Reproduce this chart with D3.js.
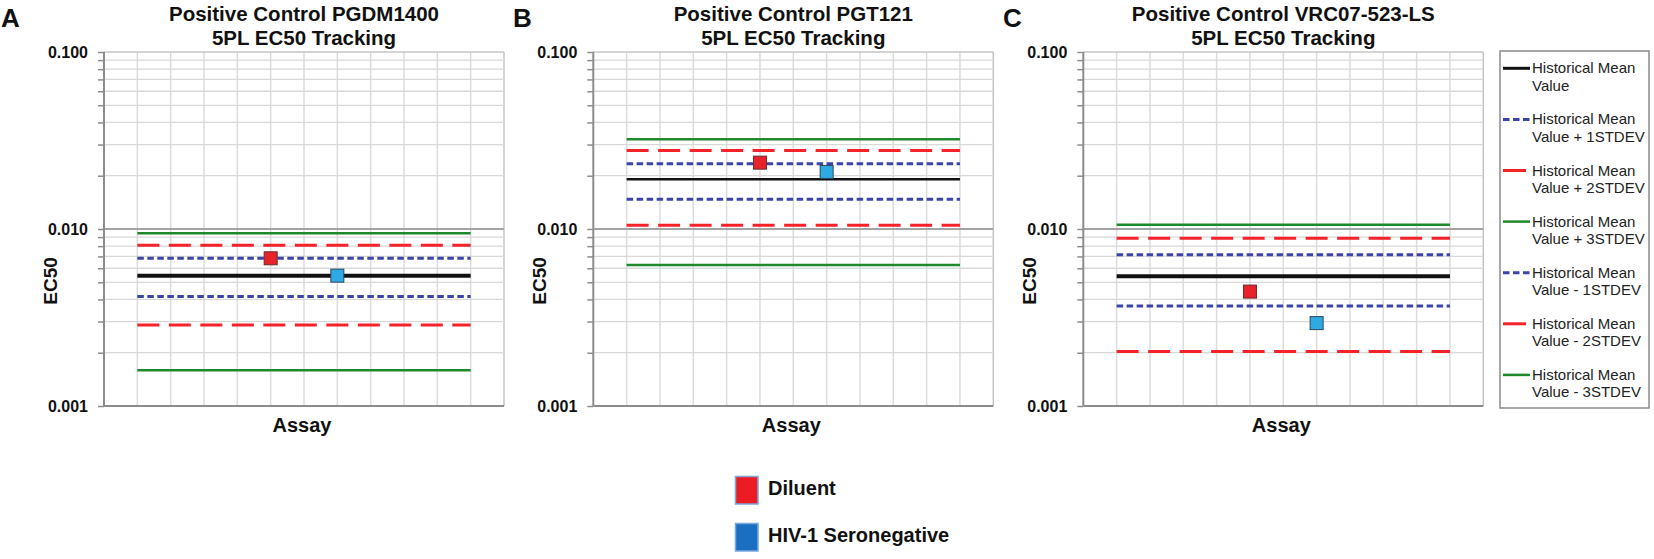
<!DOCTYPE html>
<html><head><meta charset="utf-8">
<script src="https://cdn.jsdelivr.net/npm/d3@7"></script>
<style>body{margin:0;background:#fff} svg{display:block;font-family:"Liberation Sans",Arial,sans-serif}</style>
</head><body><svg id="c" width="1654" height="559"></svg>
<script>
// ---------- data ----------
const panelLetters = ["A", "B", "C"];
const titleLine1 = ["Positive Control PGDM1400", "Positive Control PGT121", "Positive Control VRC07-523-LS"];
const titleLine2 = "5PL EC50 Tracking";
const yMajorTicks = [0.001, 0.01, 0.1];
const assayStart = 1, assayEnd = 11, assayMax = 12;
const assayGrid = [1, 2, 3, 4, 5, 6, 7, 8, 9, 10, 11, 12];

const histMean   = [0.00545, 0.0191, 0.00541];
const histPlus1  = [0.00683, 0.0234, 0.00716];
const histPlus2  = [0.00809, 0.0278, 0.00886];
const histPlus3  = [0.00946, 0.0321, 0.01057];
const histMinus1 = [0.00415, 0.01472, 0.00367];
const histMinus2 = [0.00287, 0.0105, 0.00203];
const histMinus3 = [0.00159, 0.00627, null];

const diluentAssay = [5, 5, 5];
const diluentEC50 = [0.00683, 0.0237, 0.00443];
const seronegAssay = [7, 7, 7];
const seronegEC50 = [0.00545, 0.0210, 0.00294];

const legendNames = [
  ["Historical Mean", "Value"],
  ["Historical Mean", "Value + 1STDEV"],
  ["Historical Mean", "Value + 2STDEV"],
  ["Historical Mean", "Value + 3STDEV"],
  ["Historical Mean", "Value - 1STDEV"],
  ["Historical Mean", "Value - 2STDEV"],
  ["Historical Mean", "Value - 3STDEV"]
];
const markerNames = ["Diluent", "HIV-1 Seronegative"];

// ---------- styles ----------
const GREEN = "#1f8a2c", RED = "#f5222a", BLUE = "#3d44a8", BLACK = "#111";
const seriesList = [
  {vals: histMean,   color: BLACK, dash: null,      w: null},
  {vals: histPlus1,  color: BLUE,  dash: "6.5,3.5", w: 3},
  {vals: histPlus2,  color: RED,   dash: "22,9.5",  w: 3},
  {vals: histPlus3,  color: GREEN, dash: null,      w: 2.5},
  {vals: histMinus1, color: BLUE,  dash: "6.5,3.5", w: 3},
  {vals: histMinus2, color: RED,   dash: "22,9.5",  w: 3},
  {vals: histMinus3, color: GREEN, dash: null,      w: 2.5}
];
const meanWidth = [4, 2.5, 4];
const panelLeft = [104, 593.3, 1083.3];
const panelW = 400, plotTop = 52, plotBottom = 406;

const svg = d3.select("#c");

// minor + major log ticks
const allTicks = [];
for (const d of [0.001, 0.01]) for (let m = 1; m <= 9; m++) allTicks.push(+(d * m).toPrecision(3));
allTicks.push(0.1);

panelLetters.forEach((L, i) => {
  const x0 = panelLeft[i];
  const x = d3.scaleLinear().domain([0, assayMax]).range([x0, x0 + panelW]);
  const y = d3.scaleLog().domain([0.001, 0.1]).range([plotBottom, plotTop]);
  const g = svg.append("g");

  // vertical grid
  g.selectAll(".vg").data(assayGrid).enter().append("line")
    .attr("x1", d => x(d)).attr("x2", d => x(d)).attr("y1", plotTop).attr("y2", plotBottom)
    .attr("stroke", d => d === assayMax ? "#c4c4c4" : "#dcdcdc").attr("stroke-width", 1.5);
  // horizontal grid
  g.selectAll(".hg").data(allTicks.filter(t => t !== 0.001)).enter().append("line")
    .attr("x1", x(0)).attr("x2", x(assayMax)).attr("y1", d => y(d)).attr("y2", d => y(d))
    .attr("stroke", d => d === 0.01 ? "#a3a3a3" : (d === 0.1 ? "#c4c4c4" : "#d9d9d9"))
    .attr("stroke-width", d => d === 0.01 ? 2 : 1.3);

  // axes
  const ax = d3.axisLeft(y).tickValues(allTicks).tickSize(6).tickPadding(10)
    .tickFormat(d => yMajorTicks.some(m => Math.abs(m - d) < 1e-9) ? d3.format(".3f")(d) : "");
  const ag = g.append("g").attr("transform", `translate(${x0},0)`).call(ax);
  ag.select(".domain").remove();
  ag.selectAll(".tick line").attr("stroke", "#8c8c8c").attr("stroke-width", 1.5);
  ag.selectAll(".tick text").attr("fill", "#111").style("font-size", "16px").style("font-weight", "bold")
    .style("font-family", "Liberation Sans, Arial, sans-serif");
  g.append("line").attr("x1", x0).attr("x2", x0).attr("y1", plotTop).attr("y2", plotBottom)
    .attr("stroke", "#8c8c8c").attr("stroke-width", 2);
  g.append("line").attr("x1", x0).attr("x2", x(assayMax)).attr("y1", plotBottom).attr("y2", plotBottom)
    .attr("stroke", "#8c8c8c").attr("stroke-width", 2);

  // series lines
  seriesList.forEach((s, k) => {
    const v = s.vals[i];
    if (v == null) return;
    g.append("line").attr("x1", x(assayStart)).attr("x2", x(assayEnd)).attr("y1", y(v)).attr("y2", y(v))
      .attr("stroke", s.color).attr("stroke-width", s.w == null ? meanWidth[i] : s.w)
      .attr("stroke-dasharray", s.dash);
  });

  // markers
  const ms = 13;
  g.append("rect").attr("x", x(diluentAssay[i]) - ms / 2).attr("y", y(diluentEC50[i]) - ms / 2)
    .attr("width", ms).attr("height", ms).attr("fill", "#e8222a").attr("stroke", "#6b2a2a").attr("stroke-width", 1);
  g.append("rect").attr("x", x(seronegAssay[i]) - ms / 2).attr("y", y(seronegEC50[i]) - ms / 2)
    .attr("width", ms).attr("height", ms).attr("fill", "#2fa9e1").attr("stroke", "#2b4766").attr("stroke-width", 1);

  // titles
  const cx = (x(0) + x(assayMax)) / 2;
  g.append("text").attr("x", cx).attr("y", 21).attr("text-anchor", "middle")
    .style("font-size", "20.5px").style("font-weight", "bold").attr("fill", "#111").text(titleLine1[i]);
  g.append("text").attr("x", cx).attr("y", 44.5).attr("text-anchor", "middle")
    .style("font-size", "20.5px").style("font-weight", "bold").attr("fill", "#111").text(titleLine2);
  // panel letter
  const letterX = [1, 513, 1003];
  g.append("text").attr("x", letterX[i]).attr("y", 27).style("font-size", "26px").style("font-weight", "bold")
    .attr("fill", "#111").text(L);
  // axis titles
  g.append("text").attr("transform", `translate(${x0 - 47},281) rotate(-90)`).attr("text-anchor", "middle")
    .style("font-size", "19px").style("font-weight", "bold").attr("fill", "#111").text("EC50");
  g.append("text").attr("x", cx - 2).attr("y", 432).attr("text-anchor", "middle")
    .style("font-size", "20px").style("font-weight", "bold").attr("fill", "#111").text("Assay");
});

// right legend
svg.append("rect").attr("x", 1500).attr("y", 51).attr("width", 149).attr("height", 357)
  .attr("fill", "#fff").attr("stroke", "#8a8a8a").attr("stroke-width", 1.5);
legendNames.forEach((nm, k) => {
  const s = seriesList[k];
  const yc = 68.3 + k * 51.1;
  const isRed = s.color === RED;
  svg.append("line").attr("x1", 1503).attr("x2", isRed ? 1526 : 1530).attr("y1", yc).attr("y2", yc)
    .attr("stroke", s.color).attr("stroke-width", s.w == null ? 3 : s.w)
    .attr("stroke-dasharray", s.color === BLUE ? s.dash : null);
  svg.append("text").attr("x", 1532).attr("y", yc + 5).style("font-size", "15px").attr("fill", "#222").text(nm[0]);
  svg.append("text").attr("x", 1532).attr("y", yc + 22.5).style("font-size", "15px").attr("fill", "#222").text(nm[1]);
});

// bottom legend
const mkFill = ["#ec1c24", "#1b6fc3"];
const mkY = [476.5, 523.5];
markerNames.forEach((nm, k) => {
  svg.append("rect").attr("x", 735.5).attr("y", mkY[k]).attr("width", 22.5).attr("height", 27.5)
    .attr("fill", mkFill[k]).attr("stroke", "#7ba7dc").attr("stroke-width", 1.5);
  svg.append("text").attr("x", 768).attr("y", mkY[k] + 18).style("font-size", "20px").style("font-weight", "bold")
    .attr("fill", "#111").text(nm);
});
</script></body></html>
